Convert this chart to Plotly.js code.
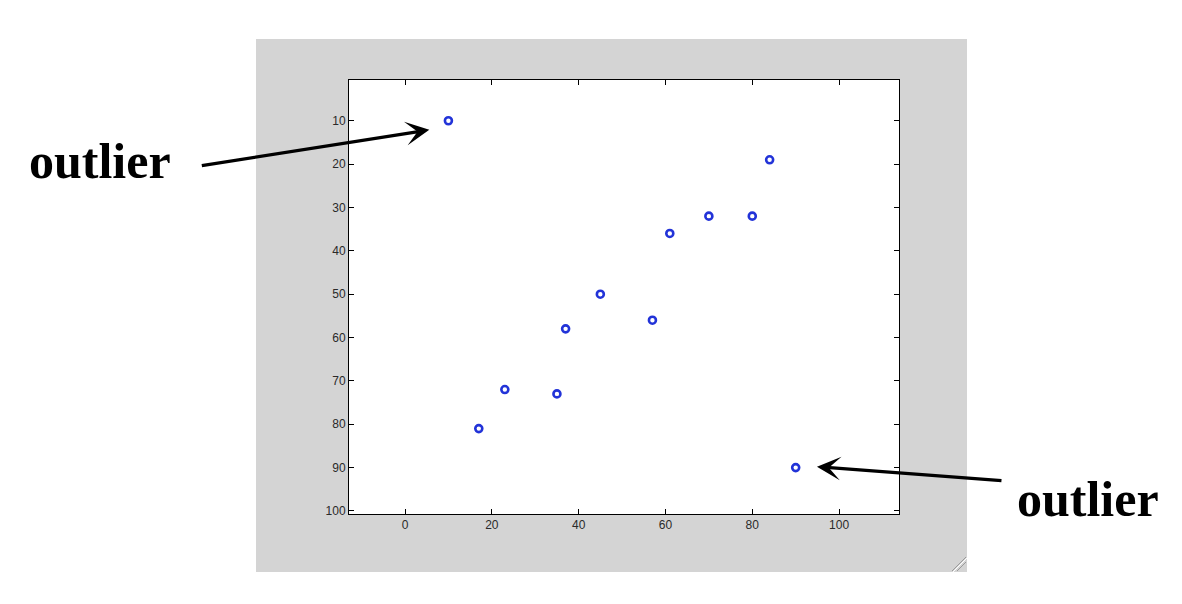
<!DOCTYPE html>
<html>
<head>
<meta charset="utf-8">
<script src="https://cdn.plot.ly/plotly-3.0.1.min.js"></script>
<style>html,body{margin:0;padding:0;background:#fff;}#chart{width:1182px;height:604px;}</style>
</head>
<body>
<div id="chart"></div>
<script>
// Data
const xValues = [10, 17, 23, 35, 37, 45, 57, 61, 70, 80, 84, 90];
const yValues = [10, 81, 72, 73, 58, 50, 56, 36, 32, 32, 19, 90];
const xTickVals = [0, 20, 40, 60, 80, 100];
const yTickVals = [10, 20, 30, 40, 50, 60, 70, 80, 90, 100];
const annotationLabel = "outlier";

// Layout geometry in pixels
const W = 1182, H = 604;
const L = 349, R = 899, T = 80, B = 514;
const px = v => (v - L) / (R - L);
const py = v => (B - v) / (B - T);

const trace = {
  x: xValues, y: yValues,
  type: 'scatter', mode: 'markers',
  marker: {symbol: 'circle-open', size: 7, color: '#2233d8', line: {width: 2.6, color: '#2233d8'}},
  hoverinfo: 'x+y', showlegend: false
};

const tickFont = {family: 'Liberation Sans, Arial, sans-serif', size: 12, color: '#2a2a2a'};

const layout = {
  width: W, height: H,
  margin: {l: L, r: W - R, t: T, b: H - B, pad: 0},
  paper_bgcolor: '#ffffff',
  plot_bgcolor: 'rgba(0,0,0,0)',
  showlegend: false,
  xaxis: {
    range: [-12.9, 113.8], tickvals: xTickVals, ticktext: xTickVals.map(String),
    showgrid: false, zeroline: false, showline: true, linecolor: '#000', linewidth: 1,
    mirror: 'ticks', ticks: 'inside', ticklen: 5, tickcolor: '#000', tickwidth: 1,
    tickfont: tickFont, fixedrange: true
  },
  yaxis: {
    range: [100.7, 0.6], tickvals: yTickVals, ticktext: yTickVals.map(String),
    showgrid: false, zeroline: false, showline: true, linecolor: '#000', linewidth: 1,
    mirror: 'ticks', ticks: 'inside', ticklen: 5, tickcolor: '#000', tickwidth: 1,
    tickfont: tickFont, fixedrange: true
  },
  shapes: [
    {type: 'rect', xref: 'paper', yref: 'paper', layer: 'below',
     x0: px(256), x1: px(967), y0: py(572), y1: py(39),
     fillcolor: '#d4d4d4', line: {width: 0}},
    {type: 'rect', xref: 'paper', yref: 'paper', layer: 'below',
     x0: 0, x1: 1, y0: 0, y1: 1, fillcolor: '#ffffff', line: {width: 0}},
    // window resize grip
    {type: 'line', xref: 'paper', yref: 'paper', x0: px(952), y0: py(571), x1: px(966), y1: py(557), line: {color: '#9a9a9a', width: 1}},
    {type: 'line', xref: 'paper', yref: 'paper', x0: px(957), y0: py(571), x1: px(966), y1: py(562), line: {color: '#9a9a9a', width: 1}},
    {type: 'line', xref: 'paper', yref: 'paper', x0: px(953), y0: py(572), x1: px(967), y1: py(558), line: {color: '#ffffff', width: 1}}
  ],
  annotations: [
    {xref: 'x', yref: 'y', x: 5.6, y: 12.1, ax: -229, ay: 36, axref: 'pixel', ayref: 'pixel',
     text: '', showarrow: true, arrowhead: 3, arrowsize: 1.2, arrowwidth: 3.3, arrowcolor: '#000'},
    {xref: 'x', yref: 'y', x: 94.9, y: 89.8, ax: 186, ay: 14, axref: 'pixel', ayref: 'pixel',
     text: '', showarrow: true, arrowhead: 3, arrowsize: 1.2, arrowwidth: 3.3, arrowcolor: '#000'},
    {xref: 'paper', yref: 'paper', x: px(100), y: py(161), xanchor: 'center', yanchor: 'middle',
     text: '<b>' + annotationLabel + '</b>', showarrow: false,
     font: {family: 'Liberation Serif, Times New Roman, serif', size: 50, color: '#000'}},
    {xref: 'paper', yref: 'paper', x: px(1088), y: py(499), xanchor: 'center', yanchor: 'middle',
     text: '<b>' + annotationLabel + '</b>', showarrow: false,
     font: {family: 'Liberation Serif, Times New Roman, serif', size: 50, color: '#000'}}
  ]
};

Plotly.newPlot('chart', [trace], layout, {displayModeBar: false, staticPlot: true});
</script>
</body>
</html>
